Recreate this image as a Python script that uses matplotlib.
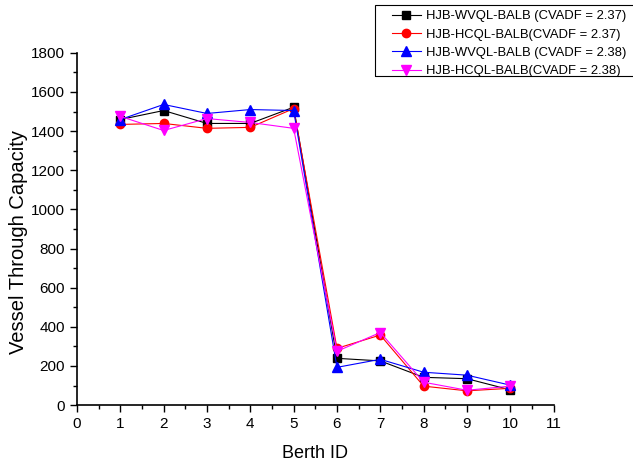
import matplotlib
matplotlib.use("Agg")
import matplotlib.pyplot as plt
from matplotlib.patches import Rectangle
from matplotlib.ticker import MultipleLocator

plt.rcParams["font.family"] = ["Liberation Sans", "DejaVu Sans"]

berth_ids = [1, 2, 3, 4, 5, 6, 7, 8, 9, 10]
wvql_237 = [1459, 1505, 1439, 1439, 1522, 239, 226, 142, 135, 78]
hcql_237 = [1434, 1439, 1414, 1419, 1515, 290, 358, 97, 73, 86]
wvql_238 = [1459, 1536, 1490, 1510, 1505, 193, 234, 168, 153, 102]
hcql_238 = [1475, 1403, 1464, 1444, 1414, 275, 371, 117, 76, 97]

series = [
    ("HJB-WVQL-BALB (CVADF = 2.37)", wvql_237, "black", "s", 5.2),
    ("HJB-HCQL-BALB(CVADF = 2.37)", hcql_237, "red", "o", 6),
    ("HJB-WVQL-BALB (CVADF = 2.38)", wvql_238, "blue", "^", 6.5),
    ("HJB-HCQL-BALB(CVADF = 2.38)", hcql_238, "magenta", "v", 6.5),
]

fig = plt.figure(figsize=(6.33, 4.63), dpi=100)
ax = fig.add_axes([0.1216, 0.125, 0.753, 0.761])

for label, vals, color, marker, ms in series:
    ax.plot(berth_ids, vals, color=color, marker=marker, markersize=ms,
            linewidth=0.8, label=label)

ax.set_xlim(0, 11)
ax.set_ylim(0, 1800)
ax.xaxis.set_major_locator(MultipleLocator(1))
ax.xaxis.set_minor_locator(MultipleLocator(0.5))
ax.yaxis.set_major_locator(MultipleLocator(200))
ax.yaxis.set_minor_locator(MultipleLocator(100))
ax.tick_params(which="major", direction="out", length=5, width=1, labelsize=11)
ax.tick_params(which="minor", direction="out", length=3, width=1)
ax.spines["top"].set_visible(False)
ax.spines["right"].set_visible(False)
ax.spines["left"].set_linewidth(1.2)
ax.spines["bottom"].set_linewidth(1.2)

ax.set_xlabel("Berth ID", fontsize=13, labelpad=10)
ax.set_ylabel("Vessel Through Capacity", fontsize=14.5)
ax.yaxis.set_label_coords(-0.103, 0.463)

# legend sits in the top-right corner, outside the axes, with its own frame
leg = fig.legend(loc="upper left", bbox_to_anchor=(392 / 633, 1 - 10 / 463),
                 fontsize=9.4, frameon=False, borderpad=0, borderaxespad=0,
                 handlelength=2.2, labelspacing=0.48, handletextpad=0.4)
fig.patches.append(Rectangle((375 / 633, 1 - 76 / 463), 0.42, 71 / 463,
                             transform=fig.transFigure, fill=False,
                             edgecolor="black", linewidth=0.8))

fig.savefig("out.png", dpi=100)
